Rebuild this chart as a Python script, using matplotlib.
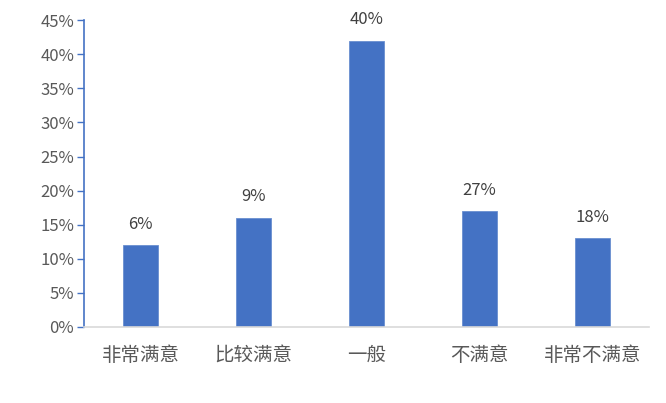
import numpy as np
import matplotlib
matplotlib.use('Agg')
import matplotlib.pyplot as plt
from matplotlib.ticker import PercentFormatter

plt.rcParams['font.family'] = ['Noto Sans CJK SC', 'DejaVu Sans']

categories = ['非常满意', '比较满意', '一般', '不满意', '非常不满意']
bar_heights = [12, 16, 42, 17, 13]
bar_labels = ['6%', '9%', '40%', '27%', '18%']
y_ticks = list(range(0, 50, 5))

fig = plt.figure(figsize=(6.66, 4.03), dpi=100)
ax = fig.add_axes([0.126, 0.1886, 0.848, 0.7614])

x = np.arange(len(categories))
bars = ax.bar(x, bar_heights, width=0.31, color='#4472C4', edgecolor='#6A8FD0', linewidth=0.6)

for b, lab in zip(bars, bar_labels):
    ax.annotate(lab, (b.get_x() + b.get_width() / 2, b.get_height()),
                xytext=(0, 9), textcoords='offset points',
                ha='center', va='bottom', fontsize=12, color='#404040')

ax.set_xlim(-0.5, len(categories) - 0.5)
ax.set_ylim(0, 45)
ax.set_yticks(y_ticks)
ax.yaxis.set_major_formatter(PercentFormatter(decimals=0))
ax.set_xticks(x)
ax.set_xticklabels(categories)

for s in ['top', 'right']:
    ax.spines[s].set_visible(False)
ax.spines['left'].set_color('#4472C4')
ax.spines['left'].set_linewidth(1.2)
ax.spines['bottom'].set_color('#D9D9D9')
ax.spines['bottom'].set_linewidth(1.2)

ax.tick_params(axis='y', direction='out', length=5, color='#4472C4', width=1,
               labelsize=12, labelcolor='#595959', pad=2)
ax.tick_params(axis='x', length=0, labelsize=14, labelcolor='#595959', pad=13)

fig.savefig('out.png', dpi=100)
